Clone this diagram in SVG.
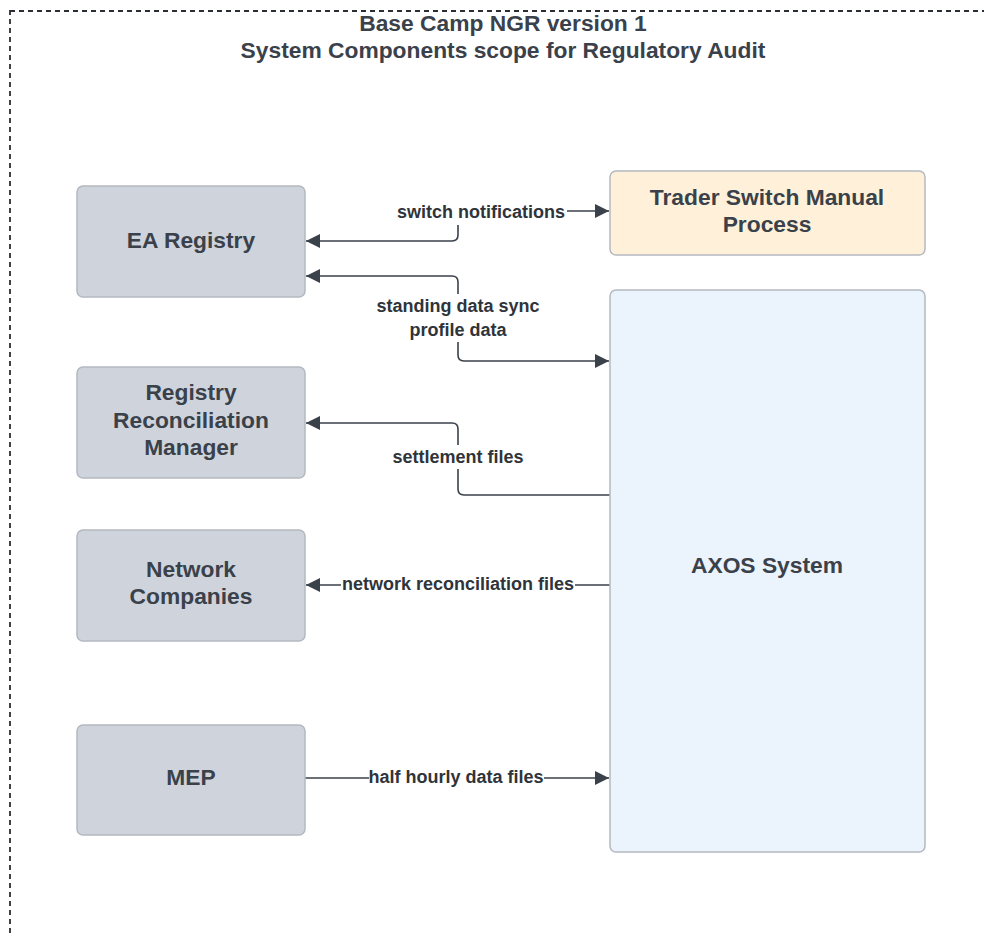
<svg xmlns="http://www.w3.org/2000/svg" width="984" height="936" viewBox="0 0 984 936">
<style>
.frame{fill:none;stroke:#2b2f35;stroke-width:1.8;stroke-dasharray:5 4}
.title{font-family:"Liberation Sans",Arial,sans-serif;font-weight:bold;font-size:22.8px;fill:#3a414a;text-anchor:middle}
.node{stroke:#b4b9c0;stroke-width:1.5}
.grey{fill:#cfd4dc}
.cream{fill:#fff1d9}
.blue{fill:#ebf3fc}
.ntext{font-family:"Liberation Sans",Arial,sans-serif;font-weight:bold;font-size:22.8px;fill:#3a414a;text-anchor:middle}
.edge{fill:none;stroke:#3a414a;stroke-width:1.6}
.lbl{font-family:"Liberation Sans",Arial,sans-serif;font-weight:bold;font-size:18px;fill:#2f343b;text-anchor:middle}
.lblbg{fill:#ffffff}
</style>
<defs>
<marker id="ah" viewBox="0 0 14 14" refX="14" refY="7" markerWidth="14" markerHeight="14" markerUnits="userSpaceOnUse" orient="auto">
<path d="M0,0 L14,7 L0,14 Z" fill="#3a414a"/>
</marker>
</defs>
<rect class="frame" x="10" y="11" width="1000" height="1000"/>
<g id="title">
<text class="title" x="503" y="31">Base Camp NGR version 1</text>
<text class="title" x="503" y="58">System Components scope for Regulatory Audit</text>
</g>
<g id="connectors">
<path class="edge" d="M458,222 V235 Q458,241 452,241 H306" marker-end="url(#ah)"/>
<path class="edge" d="M458,222 V211 H609" marker-end="url(#ah)"/>
<path class="edge" d="M458,318 V282 Q458,276 452,276 H306" marker-end="url(#ah)"/>
<path class="edge" d="M458,318 V355 Q458,361 464,361 H609" marker-end="url(#ah)"/>
<path class="edge" d="M610,495 H464 Q458,495 458,489 V429 Q458,423 452,423 H306" marker-end="url(#ah)"/>
<path class="edge" d="M610,585 H306" marker-end="url(#ah)"/>
<path class="edge" d="M305,778 H609" marker-end="url(#ah)"/>
<rect class="lblbg" x="396" y="200" width="171" height="25"/>
<text class="lbl" x="481" y="218">switch notifications</text>
<rect class="lblbg" x="376" y="294" width="164" height="48"/>
<text class="lbl" x="458" y="312">standing data sync</text>
<text class="lbl" x="458" y="336">profile data</text>
<rect class="lblbg" x="393" y="445" width="130" height="24"/>
<text class="lbl" x="458" y="463">settlement files</text>
<rect class="lblbg" x="341" y="573" width="234" height="24"/>
<text class="lbl" x="458" y="590">network reconciliation files</text>
<rect class="lblbg" x="369" y="766" width="175" height="24"/>
<text class="lbl" x="456" y="783">half hourly data files</text>
</g>
<g id="ea-registry">
<rect class="node grey" x="77" y="186" width="228" height="111" rx="6"/>
<text class="ntext" x="191" y="248">EA Registry</text>
</g>
<g id="registry-reconciliation-manager">
<rect class="node grey" x="77" y="367" width="228" height="111" rx="6"/>
<text class="ntext" x="191" y="400">Registry</text>
<text class="ntext" x="191" y="428">Reconciliation</text>
<text class="ntext" x="191" y="455">Manager</text>
</g>
<g id="network-companies">
<rect class="node grey" x="77" y="530" width="228" height="111" rx="6"/>
<text class="ntext" x="191" y="577">Network</text>
<text class="ntext" x="191" y="604">Companies</text>
</g>
<g id="mep">
<rect class="node grey" x="77" y="725" width="228" height="110" rx="6"/>
<text class="ntext" x="191" y="785">MEP</text>
</g>
<g id="trader-switch">
<rect class="node cream" x="610" y="171" width="315" height="84" rx="6"/>
<text class="ntext" x="767" y="205">Trader Switch Manual</text>
<text class="ntext" x="767" y="232">Process</text>
</g>
<g id="axos">
<rect class="node blue" x="610" y="290" width="315" height="562" rx="6"/>
<text class="ntext" x="767" y="573">AXOS System</text>
</g>
</svg>
